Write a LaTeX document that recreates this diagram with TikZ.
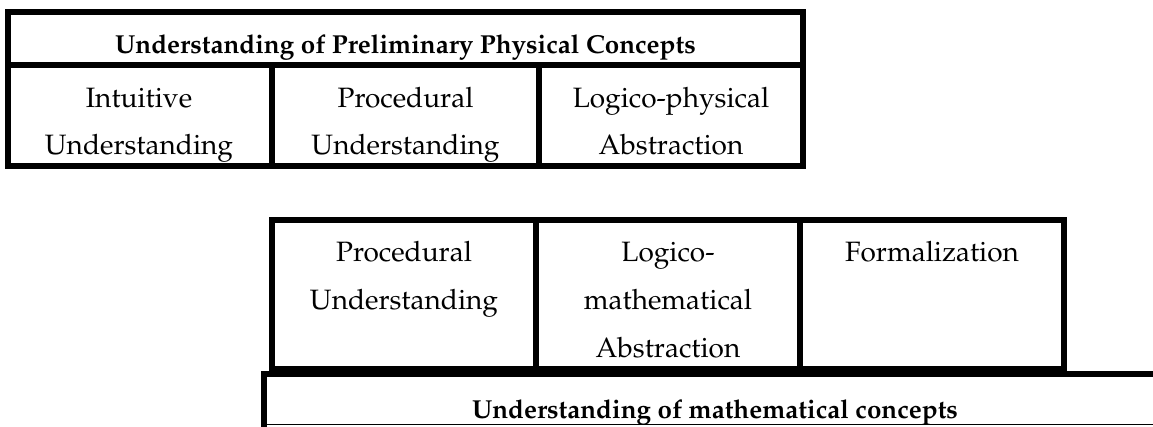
\documentclass[tikz,border=0pt]{standalone}
\usepackage[T1]{fontenc}
\usepackage{mathpazo}
\begin{document}
\begin{tikzpicture}[x=1pt,y=-1pt,
  frame/.style={line width=6pt, line join=miter},
  thin frame/.style={line width=1.2pt},
  txt/.style={anchor=base, inner sep=0pt, font=\fontsize{28}{32}\selectfont},
  hd/.style={anchor=base, inner sep=0pt, font=\fontsize{26}{32}\selectfont\bfseries}]
\useasboundingbox (0,0) rectangle (1153,426);
% top table
\draw[frame] (8,12) rectangle (803,166);
\draw[frame] (8,65) -- (803,65);
\draw[frame] (272,65) -- (272,166);
\draw[frame] (539,65) -- (539,166);
\node[hd] (h1) at (405.5,53) {Understanding of Preliminary Physical Concepts};
\node[txt] (a1) at (139,107) {Intuitive};
\node[txt] (a2) at (139,154) {Understanding};
\node[txt] (b1) at (405.5,107) {Procedural};
\node[txt] (b2) at (405.5,154) {Understanding};
\node[txt] (c1) at (671,107) {Logico-physical};
\node[txt] (c2) at (671,154) {Abstraction};
% bottom cells
\draw[frame] (272,220) rectangle (1064,369);
\draw[frame] (536,220) -- (536,369);
\draw[frame] (800,220) -- (800,369);
\node[txt] (d1) at (404,261) {Procedural};
\node[txt] (d2) at (404,309) {Understanding};
\node[txt] (e1) at (668,261) {Logico-};
\node[txt] (e2) at (668,309) {mathematical};
\node[txt] (e3) at (668,357) {Abstraction};
\node[txt] (f1) at (932,261) {Formalization};
% bottom table
\draw[frame] (1170,374) -- (264,374) -- (264,440);
\draw[thin frame] (264,424.5) -- (1170,424.5);
\node[hd] (h2) at (715,418) {Understanding of mathematical concepts};
\end{tikzpicture}
\end{document}
